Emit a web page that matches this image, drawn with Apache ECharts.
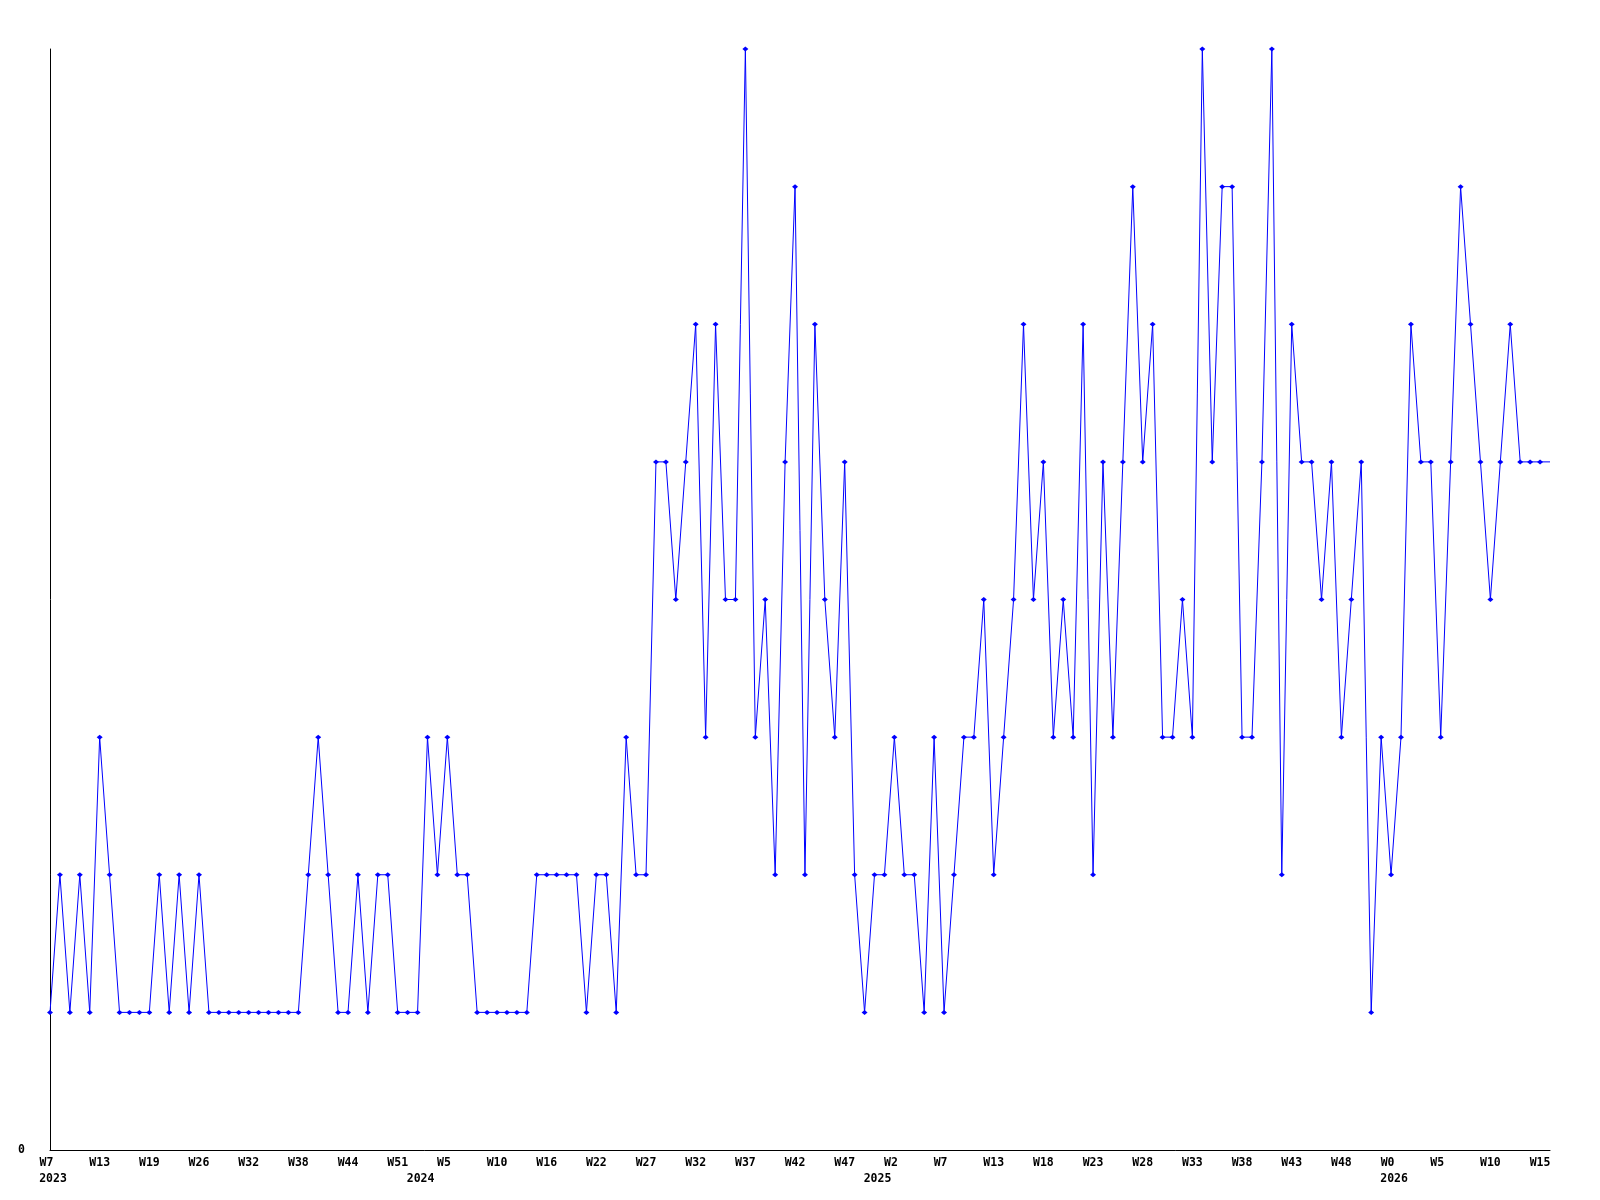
<!DOCTYPE html>
<html>
<head>
<meta charset="utf-8">
<style>html,body{margin:0;padding:0;background:#fff}#chart{width:1600px;height:1200px}</style>
<script src="https://cdn.jsdelivr.net/npm/echarts@6/dist/echarts.min.js"></script>
</head>
<body>
<div id="chart"></div>
<script>
// weekly values (152 points)
const values = [
  1,2,1,2,1,3,2,1,1,1,
  1,2,1,2,1,2,1,1,1,1,
  1,1,1,1,1,1,2,3,2,1,
  1,2,1,2,2,1,1,1,3,2,
  3,2,2,1,1,1,1,1,1,2,
  2,2,2,2,1,2,2,1,3,2,
  2,5,5,4,5,6,3,6,4,4,
  8,3,4,2,5,7,2,6,4,3,
  5,2,1,2,2,3,2,2,1,3,
  1,2,3,3,4,2,3,4,6,4,
  5,3,4,3,6,2,5,3,5,7,
  5,6,3,3,4,3,8,5,7,7,
  3,3,5,8,2,6,5,5,4,5,
  3,4,5,1,3,2,3,6,5,5,
  3,5,7,6,5,4,5,6,5,5,5,5
];
// week tick labels, one every 5 points
const weekLabels = ['W7','W13','W19','W26','W32','W38','W44','W51','W5','W10','W16','W22','W27','W32','W37','W42','W47','W2','W7','W13','W18','W23','W28','W33','W38','W43','W48','W0','W5','W10','W15'];
const labelStep = 5;
// year labels and the point index they sit under
const yearLabels = ['2023','2024','2025','2026'];
const yearIndex = [0,37,83,135];

const categories = values.map((v,i)=>String(i));
const font = '"DejaVu Sans Mono", monospace';

const chart = echarts.init(document.getElementById('chart'), null, {renderer:'canvas'});
chart.setOption({
  animation:false,
  backgroundColor:'#ffffff',
  grid:{left:50,right:50,top:49,bottom:50,containLabel:false},
  xAxis:[{
    type:'category', data:categories, boundaryGap:false,
    axisLine:{show:true,lineStyle:{color:'#000',width:1}},
    axisTick:{show:false}, splitLine:{show:false},
    axisLabel:{interval:labelStep-1, margin:7, color:'#000', fontFamily:font, fontWeight:'bold', fontSize:11.5,
      formatter:(v,idx)=> (idx%labelStep===0 && weekLabels[idx/labelStep]) ? weekLabels[idx/labelStep].padEnd(3,' ') : ''}
  },{
    type:'category', data:categories, boundaryGap:false, position:'bottom', offset:16,
    axisLine:{show:false}, axisTick:{show:false}, splitLine:{show:false},
    axisLabel:{interval:0, margin:7, color:'#000', fontFamily:font, fontWeight:'bold', fontSize:11.5,
      padding:[0,0,0,6],
      formatter:(v,idx)=>{const k=yearIndex.indexOf(idx);return k>=0?yearLabels[k]:'';}}
  }],
  yAxis:{
    type:'value', min:0, max:8, interval:8,
    axisLine:{show:true,lineStyle:{color:'#000',width:1}},
    axisTick:{show:false}, splitLine:{show:false},
    axisLabel:{margin:25, color:'#000', fontFamily:font, fontWeight:'bold', fontSize:11.5,
      formatter:v=> v===0?'0':''}
  },
  series:[{
    type:'line', data:values, xAxisIndex:0,
    symbol:'diamond',
    symbolSize:(v,p)=> p.dataIndex===values.length-1 ? 0 : [6,5],
    showAllSymbol:true,
    lineStyle:{color:'#0000ff',width:1},
    itemStyle:{color:'#0000ff'}
  }]
});
</script>
</body>
</html>
